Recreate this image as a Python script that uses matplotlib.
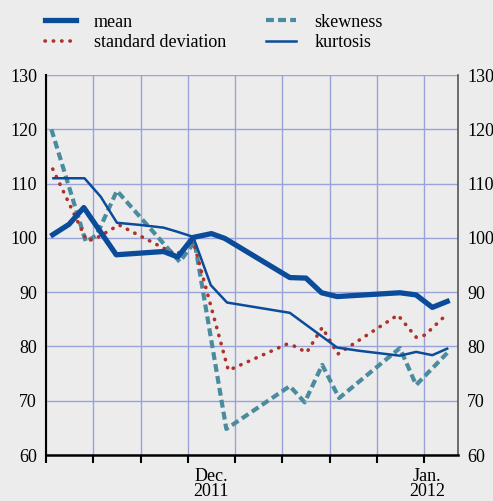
import matplotlib
matplotlib.use("Agg")
import matplotlib.pyplot as plt

# x = days since Mon 7 Nov 2011
mean_x = [1.0, 3.4, 5.6, 10.4, 17.4, 19.5, 21.8, 24.5, 26.5, 36.1, 38.5, 40.8, 43.1, 52.4, 54.8, 57.2, 59.4]
mean_y = [100.6, 102.5, 105.6, 96.9, 97.5, 96.5, 100.1, 100.8, 99.9, 92.7, 92.6, 89.9, 89.2, 89.9, 89.5, 87.2, 88.3]

std_x = [1.0, 6.0, 7.1, 10.8, 19.3, 21.8, 27.0, 28.1, 35.6, 36.7, 38.6, 40.9, 43.2, 52.1, 54.8, 56.1, 59.4]
std_y = [112.7, 99.6, 99.7, 102.4, 96.9, 99.4, 75.6, 76.2, 80.4, 80.1, 78.9, 83.5, 78.6, 85.8, 81.7, 82.1, 86.0]

skew_x = [0.8, 5.9, 7.5, 10.5, 19.8, 22.0, 26.7, 36.1, 38.3, 40.9, 43.4, 52.4, 54.8, 59.4]
skew_y = [120.0, 99.3, 100.5, 108.7, 95.6, 99.3, 64.8, 72.7, 69.7, 76.6, 70.5, 79.7, 72.9, 78.8]

kurt_x = [1.1, 5.7, 8.1, 10.5, 13.9, 17.4, 19.3, 21.8, 24.4, 26.8, 36.1, 43.1, 46.4, 52.4, 54.8, 57.2, 59.4]
kurt_y = [111.0, 111.0, 107.6, 102.8, 102.4, 101.9, 101.2, 100.2, 91.3, 88.1, 86.2, 79.8, 79.2, 78.3, 79.0, 78.4, 79.6]

week_ticks = [0, 7, 14, 21, 28, 35, 42, 49, 56]
month_pos = [24.5, 56.4]
month_labels = ["Dec.\n2011", "Jan.\n2012"]
y_ticks = [60, 70, 80, 90, 100, 110, 120, 130]

bg = "#ECECEC"
blue = "#0A4C9A"
red = "#B0302A"
teal = "#4A8C9E"
grid = "#9AA3D8"

plt.rcParams["font.family"] = ["Liberation Serif", "DejaVu Serif"]

fig = plt.figure(figsize=(4.93, 5.01), dpi=100, facecolor=bg)
ax = fig.add_axes([0.0933, 0.0918, 0.929 - 0.0933, 0.850 - 0.0918])
ax.set_facecolor(bg)

ax.plot(mean_x, mean_y, color=blue, lw=3.8, solid_joinstyle="round", label="mean", zorder=4)
ax.plot(std_x, std_y, color=red, lw=2.6, linestyle=(0, (0.1, 2.2)), dash_capstyle="round",
        label="standard deviation", zorder=3)
ax.plot(skew_x, skew_y, color=teal, lw=3.0, linestyle=(0, (1.9, 1.0)), label="skewness", zorder=2)
ax.plot(kurt_x, kurt_y, color=blue, lw=1.8, label="kurtosis", zorder=5)

ax.set_xlim(0, 61)
ax.set_ylim(60, 130)
ax.set_yticks(y_ticks)
ax.set_xticks(week_ticks)
ax.set_xticklabels([])
ax.xaxis.remove_overlapping_locs = False
ax.set_xticks(month_pos, minor=True)
ax.set_xticklabels(month_labels, minor=True)
for t in ax.get_xticklabels(minor=True):
    t.set_linespacing(0.85)

ax.grid(True, color=grid, lw=1.0)
ax.set_axisbelow(True)
ax.tick_params(axis="y", length=0, labelsize=13, pad=6.5, right=True, labelright=True)
ax.tick_params(axis="x", which="major", direction="out", length=6, width=1.5, color="black")
ax.tick_params(axis="x", which="minor", length=0, labelsize=13, pad=9)

ax.spines["top"].set_visible(False)
ax.spines["left"].set_color("black")
ax.spines["left"].set_linewidth(1.5)
ax.spines["bottom"].set_linewidth(1.8)
ax.spines["right"].set_color("#555555")
ax.spines["right"].set_linewidth(1.2)

fig.legend(loc="upper left", bbox_to_anchor=(0.058, 1.005), ncol=2, frameon=False,
           fontsize=13, handlelength=1.7, handletextpad=1.0, columnspacing=2.2,
           labelspacing=0.2)

fig.savefig("out.png", dpi=100, facecolor=bg)
